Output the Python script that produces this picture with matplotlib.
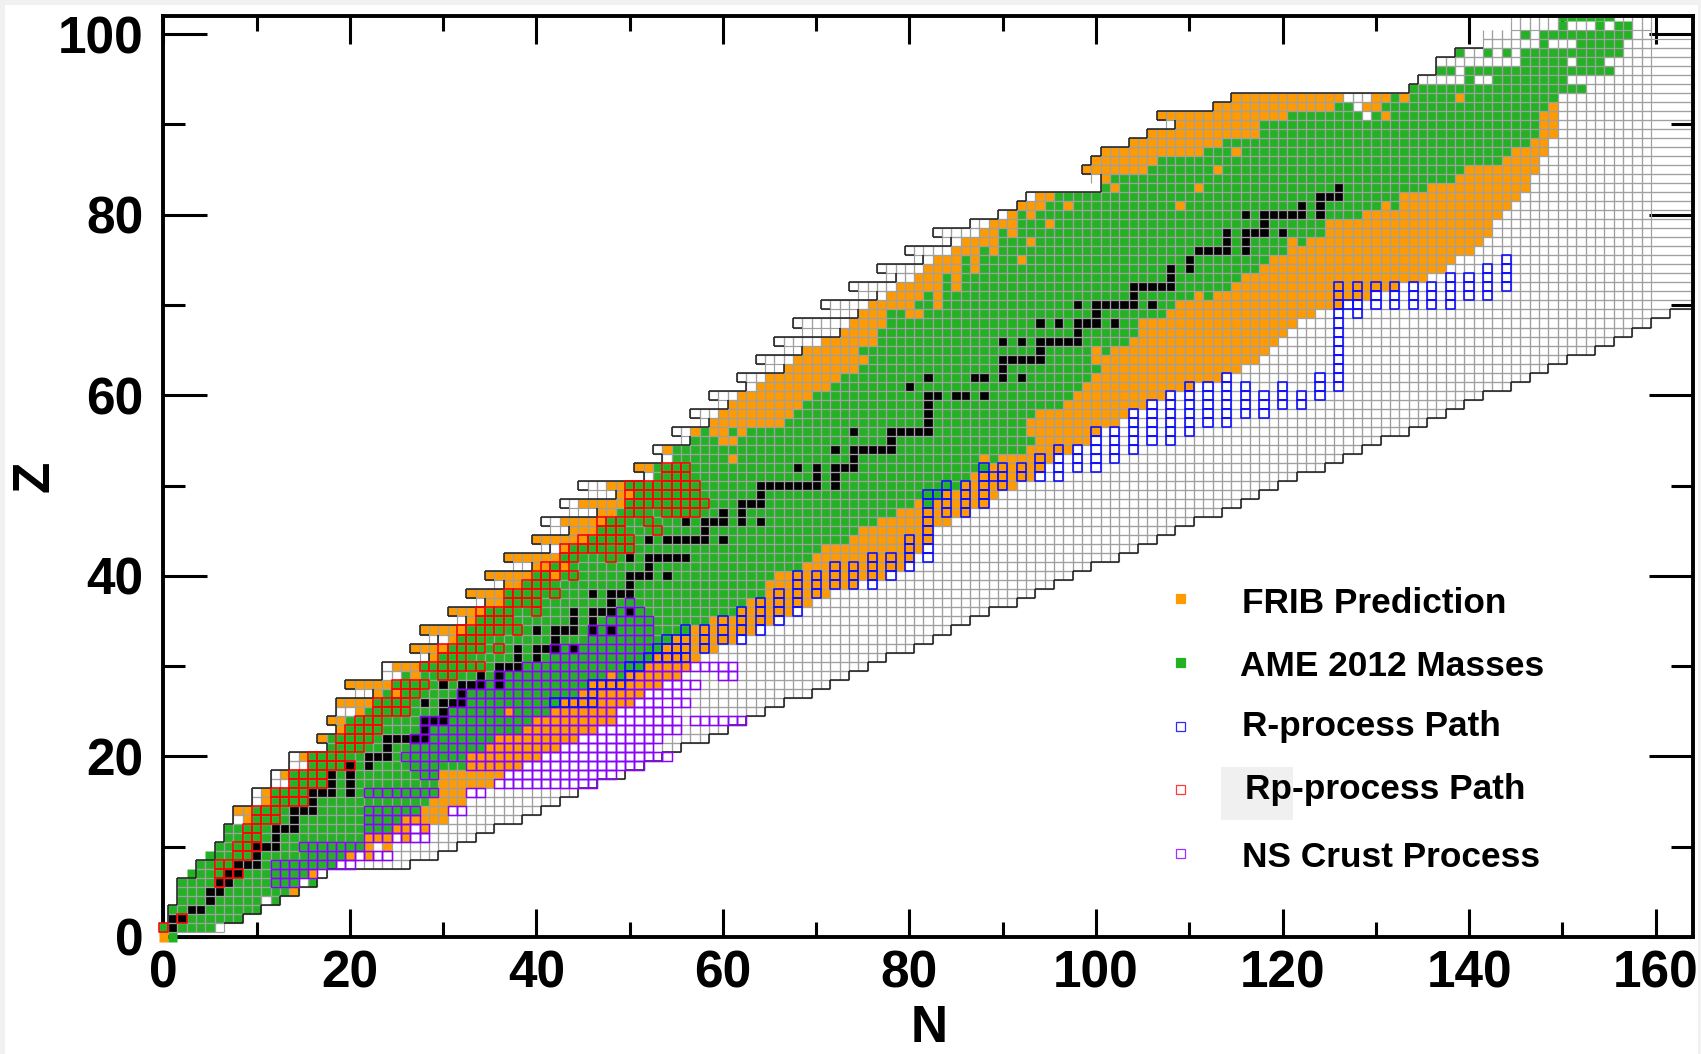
# -*- coding: utf-8 -*-
"""Nuclear chart: FRIB prediction, AME 2012 masses and process paths."""

import matplotlib
matplotlib.use("Agg")
import matplotlib.pyplot as plt
from matplotlib.collections import LineCollection, PatchCollection
from matplotlib.patches import Rectangle
from matplotlib.ticker import MultipleLocator

# ── Datos, una entrada por Z (0..102) ────────────────────────────────────────
CHART_START = [
    0, 0, 1, 1, 2, 2, 2, 4, 4, 6,
    6, 7, 7, 8, 8, 10, 10, 12, 12, 14,
    14, 18, 17, 19, 18, 19, 19, 23, 20, 24,
    24, 29, 27, 30, 28, 33, 31, 35, 33, 37,
    35, 40, 37, 42, 40, 44, 41, 47, 43, 49,
    45, 52, 51, 54, 53, 57, 55, 59, 57, 61,
    59, 63, 62, 67, 64, 69, 66, 73, 68, 75,
    71, 77, 74, 79, 77, 82, 80, 85, 83, 87,
    90, 92, 93, 101, 101, 99, 100, 101, 104, 106,
    109, 107, 113, 115, 134, 135, 137, 137, 139, 142,
    142, 145, 145]
CHART_END = [
    1, 6, 8, 10, 12, 14, 16, 17, 26, 29,
    31, 33, 35, 38, 40, 42, 44, 46, 49, 51,
    53, 55, 58, 60, 62, 64, 66, 69, 71, 73,
    75, 77, 80, 82, 84, 86, 88, 91, 93, 95,
    97, 99, 102, 104, 106, 108, 110, 113, 115, 117,
    119, 121, 124, 126, 128, 130, 133, 135, 137, 139,
    141, 144, 146, 148, 150, 153, 155, 157, 159, 161,
    166, 166, 166, 166, 166, 166, 166, 166, 166, 166,
    166, 166, 166, 166, 166, 166, 166, 166, 166, 166,
    166, 166, 166, 166, 166, 166, 166, 166, 166, 166,
    166, 166, 166]
ORANGE_START = [
    0, 0, 1, 1, 2, 2, 2, 4, 4, 6,
    6, 7, 7, 9, 8, 11, 11, 14, 13, 16,
    15, 18, 17, 19, 18, 21, 19, 23, 20, 26,
    25, 29, 27, 31, 28, 33, 31, 35, 33, 37,
    35, 40, 37, 43, 40, 44, 43, 47, 45, 49,
    48, 53, 51, 55, 54, 57, 57, 59, 60, 61,
    62, 64, 65, 67, 68, 69, 71, 73, 74, 75,
    76, 78, 79, 81, 82, 83, 85, 86, 88, 89,
    91, 92, 94, 101, 101, 99, 100, 101, 104, 106,
    109, 107, 113, 115, 134, 140, 137, 146, 146, 148,
    146, 150, 150]
AME_START = [
    1, 0, 1, 1, 2, 2, 2, 4, 4, 6,
    6, 7, 7, 10, 10, 12, 12, 14, 14, 16,
    16, 18, 18, 20, 20, 22, 23, 24, 25, 26,
    28, 30, 31, 32, 33, 34, 35, 37, 37, 39,
    40, 42, 43, 44, 46, 47, 48, 49, 50, 51,
    50, 53, 53, 55, 55, 57, 58, 67, 68, 69,
    70, 72, 73, 75, 76, 75, 77, 77, 78, 78,
    81, 82, 84, 84, 86, 86, 88, 90, 90, 92,
    92, 95, 96, 101, 102, 106, 107, 112, 114, 118,
    118, 121, 126, 127, 134, 140, 137, 146, 146, 148,
    146, 150, 150]
AME_END = [
    1, 5, 8, 10, 10, 13, 14, 15, 18, 19,
    21, 21, 24, 25, 27, 28, 29, 29, 29, 32,
    32, 34, 35, 38, 39, 41, 42, 44, 45, 49,
    51, 52, 53, 54, 56, 58, 61, 62, 64, 64,
    65, 68, 69, 70, 73, 74, 76, 78, 82, 83,
    85, 86, 88, 89, 92, 93, 92, 92, 93, 96,
    97, 98, 99, 100, 99, 101, 103, 104, 104, 107,
    108, 112, 114, 115, 117, 118, 120, 122, 124, 124,
    128, 132, 132, 135, 138, 139, 143, 144, 146, 147,
    147, 147, 148, 149, 152, 150, 155, 154, 156, 156,
    157, 157, 155]
ORANGE_END = [
    1, 5, 8, 10, 10, 14, 14, 16, 18, 20,
    22, 24, 26, 30, 30, 32, 32, 35, 36, 38,
    40, 42, 44, 46, 48, 48, 50, 51, 53, 55,
    56, 57, 59, 61, 63, 65, 67, 69, 71, 74,
    77, 79, 80, 81, 82, 82, 84, 86, 88, 89,
    91, 93, 94, 95, 97, 99, 100, 102, 103, 105,
    107, 110, 113, 115, 117, 118, 119, 120, 121, 123,
    126, 129, 132, 135, 137, 138, 140, 141, 142, 142,
    143, 144, 145, 146, 146, 147, 147, 148, 148, 149,
    149, 149, 149, 149, 152, 150, 155, 154, 156, 156,
    157, 157, 155]

# celdas sueltas (Z, [N...])
EXTRA_ORANGE = [
    (9, [22]), (10, [24]), (11, [26]), (12, [28]), (25, [37]), (27, [25]),
    (29, [27, 48]), (40, [42]), (41, [43]), (48, [81]), (53, [61, 88]),
    (55, [60, 61]), (56, [59, 60, 62]), (65, [100]), (69, [80, 81]),
    (70, [83]), (71, [83, 111]), (72, [85]), (73, [85]), (74, [87]),
    (75, [87, 92]), (76, [89]), (77, [93, 121]), (78, [91]), (79, [95]),
    (80, [93]), (81, [97, 109, 131]), (83, [102, 111]), (85, [113]),
    (87, [115]), (91, [131]), (92, [129, 130]), (93, [130, 131, 133, 139])]
EXTRA_GREEN = [(4, [12]), (6, [16]), (7, [3]), (9, [5]), (98, [139, 142, 144])]
EXTRA_WHITE = [
    (91, [129]), (92, [128]), (93, [127, 128, 129]), (95, [141, 142]),
    (96, [139]), (97, [151]), (99, [149, 150, 151]), (100, [147]),
    (101, [151, 152, 153, 155])]

STABLE = [
    (1, [1]), (2, [1, 2]), (3, [3, 4]), (4, [5]), (5, [5, 6]), (6, [6, 7]),
    (7, [7, 8]), (8, [8, 9, 10]), (9, [10]), (10, [10, 11, 12]), (11, [12]),
    (12, [12, 13, 14]), (13, [14]), (14, [14, 15, 16]), (15, [16]),
    (16, [16, 17, 18, 20]), (17, [18, 20]), (18, [18, 20]), (19, [20, 22]),
    (20, [22, 23, 24]), (21, [24]), (22, [24, 25, 26, 27, 28]), (23, [28]),
    (24, [28, 29, 30]), (25, [30]), (26, [28, 30, 31, 32]), (27, [32]),
    (28, [30, 32, 33, 34, 36]), (29, [34, 36]), (30, [36, 37, 38]),
    (31, [38, 40]), (32, [38, 40, 41, 42, 44]), (33, [42]),
    (34, [40, 42, 43, 44, 46, 48]), (35, [44, 46]), (36, [44, 46, 47, 48, 50]),
    (37, [48]), (38, [46, 48, 49, 50]), (39, [50]), (40, [50, 51, 52, 54]),
    (41, [52]), (42, [50, 52, 53, 54, 55, 56]),
    (44, [52, 54, 55, 56, 57, 58, 60]), (45, [58]),
    (46, [56, 58, 59, 60, 62, 64]), (47, [60, 62]), (48, [62, 63, 64]),
    (49, [64]), (50, [64, 65, 66, 67, 68, 69, 70, 72]), (51, [70, 72]),
    (52, [68, 70, 72, 73, 74]), (53, [74]), (54, [72, 74, 75, 76, 77, 78]),
    (55, [78]), (56, [74, 78, 79, 80, 81, 82]), (57, [82]), (58, [82]),
    (59, [82]), (60, [82, 83, 85, 86, 88]), (61, [80]),
    (62, [82, 87, 88, 90, 92]), (63, [90]), (64, [90, 91, 92, 93, 94]),
    (65, [94]), (66, [90, 92, 94, 95, 96, 97, 98]), (67, [98]),
    (68, [94, 96, 98, 99, 100, 102]), (69, [100]),
    (70, [98, 100, 101, 102, 103, 104, 106]), (71, [104]),
    (72, [104, 105, 106, 107, 108]), (73, [108]), (74, [108, 110]),
    (75, [110]), (76, [111, 112, 113, 114, 116]), (77, [114, 116]),
    (78, [114, 116, 117, 118, 120]), (79, [118]),
    (80, [116, 118, 119, 120, 121, 122, 124]), (81, [122, 124]),
    (82, [124, 125, 126]), (83, [126])]

# caminos: tramos (Z, N primero, N último) o (N, Z primero, Z último)
RP_ROWS = [
    (1, 0, 0), (2, 2, 2), (6, 6, 6), (7, 6, 8), (8, 6, 7), (9, 8, 9),
    (10, 8, 10), (11, 9, 10), (12, 9, 10), (13, 10, 12), (14, 10, 12),
    (15, 12, 15), (16, 12, 15), (17, 14, 17), (18, 14, 17), (19, 16, 20),
    (20, 16, 19), (21, 19, 21), (22, 19, 22), (23, 20, 23), (24, 21, 23),
    (25, 23, 26), (26, 23, 26), (27, 25, 27), (28, 25, 28), (29, 30, 31),
    (30, 28, 34), (31, 30, 32), (32, 30, 34), (32, 36, 36), (33, 32, 34),
    (34, 32, 36), (34, 38, 38), (35, 34, 37), (36, 34, 37), (36, 40, 40),
    (37, 37, 40), (38, 37, 40), (38, 42, 42), (39, 39, 41), (40, 40, 42),
    (40, 44, 44), (41, 41, 43), (42, 43, 44), (42, 48, 48), (43, 43, 47),
    (43, 49, 50), (44, 45, 50), (45, 47, 49), (45, 53, 53), (46, 47, 49),
    (46, 52, 52), (47, 50, 51), (47, 54, 57), (48, 50, 58), (49, 50, 57),
    (50, 50, 57), (51, 54, 56), (52, 54, 56)]
NS_ROWS = [
    (6, 12, 14), (7, 12, 16), (8, 12, 20), (9, 16, 24), (10, 15, 21),
    (11, 22, 28), (12, 22, 28), (13, 22, 27), (14, 22, 27), (14, 31, 32),
    (16, 22, 29), (16, 33, 34), (17, 36, 46), (18, 28, 29), (18, 37, 48),
    (19, 27, 29), (19, 33, 51), (20, 26, 54), (21, 27, 52), (22, 27, 53),
    (23, 28, 55), (24, 28, 55), (24, 57, 62), (25, 31, 54), (26, 32, 53),
    (26, 55, 56), (27, 32, 55), (28, 34, 57), (29, 36, 55), (29, 60, 61),
    (30, 39, 61), (31, 42, 55), (32, 42, 52), (33, 46, 52), (34, 46, 52),
    (35, 48, 52), (36, 49, 51), (37, 50, 50)]
R_COLUMNS = [
    (42, 26, 26), (43, 26, 26), (44, 26, 26), (45, 26, 26), (46, 26, 28),
    (47, 28, 28), (48, 28, 28), (49, 28, 28), (50, 29, 30), (51, 30, 30),
    (52, 31, 31), (53, 31, 32), (54, 31, 33), (55, 31, 33), (56, 31, 34),
    (58, 32, 34), (60, 33, 35), (62, 33, 36), (64, 34, 37), (66, 35, 38),
    (68, 36, 40), (70, 38, 40), (72, 39, 41), (74, 39, 41), (76, 39, 42),
    (78, 40, 42), (80, 41, 44), (82, 42, 49), (83, 49, 49), (84, 47, 50),
    (86, 47, 50), (88, 48, 52), (89, 51, 51), (90, 50, 52), (92, 51, 52),
    (94, 51, 53), (96, 51, 54), (98, 52, 54), (100, 52, 56), (102, 53, 56),
    (104, 54, 58), (106, 55, 59), (108, 55, 60), (110, 56, 61), (112, 57, 61),
    (114, 57, 62), (116, 58, 61), (118, 58, 60), (120, 59, 61), (122, 59, 60),
    (124, 60, 62), (126, 61, 72), (127, 70, 70), (128, 69, 72), (130, 70, 72),
    (132, 70, 72), (134, 70, 72), (136, 70, 72), (138, 70, 73), (140, 71, 73),
    (142, 71, 74), (144, 72, 75)]

LEGEND_LABELS = ["FRIB Prediction", "AME 2012 Masses", "R-process Path",
                 "Rp-process Path", "NS Crust Process"]

X_TICKS = [0, 20, 40, 60, 80, 100, 120, 140, 160]
Y_TICKS = [0, 20, 40, 60, 80, 100]

# ── Estilo ───────────────────────────────────────────────────────────────────
ORANGE = "#FF9A00"
GREEN = "#23B223"
BLUE = "#0A0AFF"
RED = "#FF0000"
PURPLE = "#8C00FF"
GRID = "#A0A0A0"
W, H = 1701, 1054
FONT = "Liberation Sans"

fig = plt.figure(figsize=(W / 100, H / 100), dpi=100, facecolor="#F1F1F1")
fig.add_artist(Rectangle((5 / W, 0), 1693 / W, 1049 / H, transform=fig.transFigure,
                         facecolor="white", edgecolor="none", zorder=-5))
ax = fig.add_axes([163.3 / W, 1 - 937 / H, (1693 - 163.3) / W, 921 / H])
ax.patch.set_alpha(0)
ax.set_xlim(0, 164)
ax.set_ylim(0, 102)


def fx(px):
    return px / W


def fy(py):
    return 1 - py / H


# ── Celdas ───────────────────────────────────────────────────────────────────
colour = {}
real = set()
for z in range(len(CHART_START)):
    for n in range(CHART_START[z], CHART_END[z] + 1):
        real.add((n, z))
        if ORANGE_START[z] <= n < AME_START[z] or AME_END[z] < n <= ORANGE_END[z]:
            colour[(n, z)] = ORANGE
        elif AME_START[z] <= n <= AME_END[z]:
            colour[(n, z)] = GREEN
for rows, c in ((EXTRA_ORANGE, ORANGE), (EXTRA_GREEN, GREEN), (EXTRA_WHITE, None)):
    for z, ns in rows:
        for n in ns:
            colour[(n, z)] = c
for z, ns in STABLE:
    for n in ns:
        colour[(n, z)] = "black"

clip = Rectangle((-1, -1), 164.8, 102.85, transform=ax.transData)
cells = [Rectangle((n - .5, z - .5), 1, 1, facecolor=c, edgecolor="none")
         for (n, z), c in colour.items() if c]
pc = PatchCollection(cells, match_original=True, zorder=2)
ax.add_collection(pc)
pc.set_clip_path(clip)

# rejilla gris; las filas bajo un saliente conservan solo las verticales
grid = []
ghost = set()
for z in range(1, len(CHART_START)):
    n0, n1 = CHART_START[z], CHART_END[z]
    ghost0 = n0
    if 20 <= z <= 93:
        ghost0 = min(n0, CHART_START[z + 1] + 1)
    for n in range(ghost0, n0):
        ghost.add((n, z))
        grid.append([(n - .5, z - .5), (n - .5, z + .5)])
    for n in range(n0, min(n1, 159) + 1):
        grid.append([(n - .5, z - .5), (n - .5, z + .5)])
        grid.append([(n + .5, z - .5), (n + .5, z + .5)])
    right = n1 + .5 if z < 100 else 159.5
    if z <= 101:
        grid.append([(n0 - .5, z - .5), (right, z - .5)])
    if z <= 99:
        grid.append([(n0 - .5, z + .5), (right, z + .5)])
lc = LineCollection(grid, colors=GRID, linewidths=0.85, zorder=3)
ax.add_collection(lc)
lc.set_clip_path(clip)

# contorno negro de la carta
outline = []
for n, z in real:
    if z < 2 or z > 98:
        continue
    if (n, z + 1) not in real:
        outline.append([(n - .5, z + .5), (n + .5, z + .5)])
    if (n - 1, z) not in real:
        outline.append([(n - .5, z - .5), (n - .5, z + .5)])
    if (n + 1, z) not in real:
        outline.append([(n + .5, z - .5), (n + .5, z + .5)])
    if (n, z - 1) not in real and (n, z - 1) not in ghost:
        outline.append([(n - .5, z - .5), (n + .5, z - .5)])
lc = LineCollection(outline, colors="#222222", linewidths=1.15, zorder=4)
ax.add_collection(lc)
lc.set_clip_path(clip)


# ── Caminos ──────────────────────────────────────────────────────────────────
def boxes(pairs, c, zorder, lw=1.15):
    pb = PatchCollection([Rectangle((n - .5, z - .5), 1, 1) for n, z in pairs],
                         facecolor="none", edgecolor=c, linewidths=lw, zorder=zorder)
    ax.add_collection(pb)
    pb.set_clip_path(clip)


boxes([(n, z) for z, a, b in NS_ROWS for n in range(a, b + 1)], PURPLE, 5, 1.05)
boxes([(n, z) for z, a, b in RP_ROWS for n in range(a, b + 1)], RED, 6)
boxes([(n, z) for n, a, b in R_COLUMNS for z in range(a, b + 1)], BLUE, 7)

# ── Ejes ─────────────────────────────────────────────────────────────────────
for s in ax.spines.values():
    s.set_linewidth(2.8)
    s.set_zorder(10)
ax.spines["left"].set_zorder(1.5)
ax.spines["bottom"].set_zorder(1.5)
ax.set_xticks(X_TICKS)
ax.set_yticks(Y_TICKS)
ax.xaxis.set_minor_locator(MultipleLocator(10))
ax.yaxis.set_minor_locator(MultipleLocator(10))
ax.tick_params(axis="x", which="major", direction="in", top=True, length=20, width=2.2, pad=9)
ax.tick_params(axis="x", which="minor", direction="in", top=True, length=11, width=2.2)
ax.tick_params(axis="y", which="major", direction="in", right=True, length=32, width=2.2, pad=14)
ax.tick_params(axis="y", which="minor", direction="in", right=True, length=16, width=2.2)
for lab in ax.get_xticklabels() + ax.get_yticklabels():
    lab.set_family(FONT)
    lab.set_fontweight("bold")
    lab.set_fontsize(37)

fig.text(fx(929), fy(1029), "N", family=FONT, fontweight="bold", fontsize=37,
         ha="center", va="center")
fig.text(fx(35), fy(476), "Z", family=FONT, fontweight="bold", fontsize=37,
         ha="center", va="center", rotation=90)

# ── Leyenda ──────────────────────────────────────────────────────────────────
fig.add_artist(Rectangle((fx(1221), fy(820)), 72 / W, 53 / H, transform=fig.transFigure,
                         facecolor="#F0F0F0", edgecolor="none", zorder=1))
marker_y = [598, 662, 726, 789, 853]
base_y = [613, 676, 736, 799, 867]
text_x = [1242, 1240, 1242, 1245, 1242]
marker_face = [ORANGE, GREEN, "white", "white", "white"]
marker_edge = [ORANGE, GREEN, "#2A2AFF", "#FF3A3A", "#A030FF"]
for i, lab in enumerate(LEGEND_LABELS):
    fig.add_artist(Rectangle((fx(1176), fy(marker_y[i] + 4.5)), 9 / W, 9 / H,
                             transform=fig.transFigure, facecolor=marker_face[i],
                             edgecolor=marker_edge[i], linewidth=0.9, zorder=20))
    fig.text(fx(text_x[i]), fy(base_y[i]), lab, family=FONT,
             fontweight="bold", fontsize=25.4, ha="left", va="baseline", zorder=20)

fig.savefig("out.png", dpi=100, facecolor=fig.get_facecolor())
